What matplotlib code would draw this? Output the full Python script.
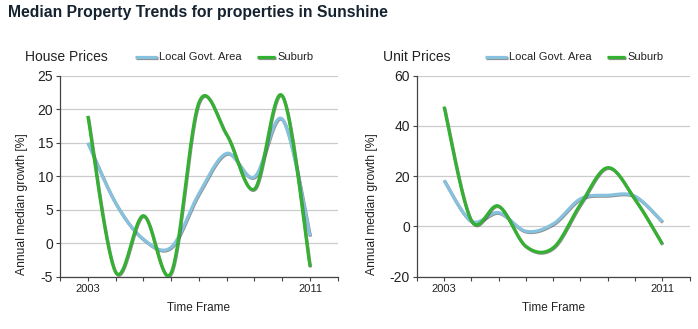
import matplotlib

matplotlib.use("Agg")
import matplotlib.pyplot as plt
import matplotlib.patheffects as pe
import numpy as np

plt.rcParams["font.family"] = ["Liberation Sans", "DejaVu Sans"]

years = [2003, 2004, 2005, 2006, 2007, 2008, 2009, 2010, 2011]

house_lga = [15.0, 6.0, 0.6, -0.6, 7.4, 13.4, 9.9, 18.5, 1.1]
house_suburb = [19.0, -4.3, 4.1, -4.4, 21.0, 16.2, 8.1, 22.0, -3.5]

unit_lga = [18.4, 2.1, 5.5, -1.9, 1.0, 11.0, 12.4, 12.0, 1.9]
unit_suburb = [47.7, 2.4, 8.1, -7.9, -8.5, 8.8, 23.4, 10.8, -7.0]

BLUE = "#86c1dd"
GREEN = "#34b132"
TEXT = "#222222"
W, H = 698, 329


def cardinal_spline(xs, ys, tension=0.5, steps=40):
    # same construction GDI+ DrawCurve uses: bezier segments with
    # control points offset by tension * (next - prev) / 3
    pts = np.column_stack([xs, ys]).astype(float)
    n = len(pts)
    out = []
    for i in range(n - 1):
        p0 = pts[i]
        p1 = pts[i + 1]
        prev = pts[i - 1] if i > 0 else pts[i]
        nxt = pts[i + 2] if i + 2 < n else pts[i + 1]
        c1 = p0 + tension * (p1 - prev) / 3.0
        c2 = p1 - tension * (nxt - p0) / 3.0
        t = np.linspace(0, 1, steps)[:, None]
        seg = ((1 - t) ** 3) * p0 + 3 * ((1 - t) ** 2) * t * c1 + 3 * (1 - t) * t ** 2 * c2 + t ** 3 * p1
        out.append(seg if i == 0 else seg[1:])
    curve = np.vstack(out)
    return curve[:, 0], curve[:, 1]


def line_shadow():
    return [pe.SimpleLineShadow(offset=(0.4, -0.6), shadow_color="#333333", alpha=0.55), pe.Normal()]


def draw_header(fig, title, title_px, legend_px):
    # panel title and a hand-placed legend row, positions in pixels
    yc = 1 - 57 / H
    fig.text(title_px / W, yc, title, fontsize=10, color=TEXT, va="center", ha="left")
    entries = (("Local Govt. Area", BLUE, 0, 22), ("Suburb", GREEN, 122, 18))
    for label, color, off, w in entries:
        x = legend_px + off
        fig.add_artist(plt.Line2D([x / W, (x + w) / W], [yc, yc], transform=fig.transFigure,
                                  color=color, lw=2.3, solid_capstyle="butt", path_effects=line_shadow()))
        fig.text((x + w + 2) / W, yc, label, fontsize=8, color=TEXT, va="center", ha="left")


def draw_panel(fig, rect, lga, suburb, ylim, yticks, ylabel_x):
    ax = fig.add_axes(rect)
    x, y = cardinal_spline(years, lga)
    ax.plot(x, y, color=BLUE, lw=2.3, solid_capstyle="butt", path_effects=line_shadow(), zorder=3)
    x, y = cardinal_spline(years, suburb)
    ax.plot(x, y, color=GREEN, lw=2.3, solid_capstyle="butt", path_effects=line_shadow(), zorder=4)

    ax.set_xlim(2002, 2012)
    ax.set_ylim(*ylim)
    ax.set_xticks(range(2002, 2013))
    ax.set_xticklabels(["2003" if v == 2003 else "2011" if v == 2011 else "" for v in range(2002, 2013)],
                       fontsize=8, color=TEXT)
    ax.set_yticks(yticks)
    ax.set_yticklabels([str(v) for v in yticks], fontsize=10, color=TEXT)
    ax.tick_params(axis="both", direction="out", length=3, width=0.8, color="#444444", pad=2)
    ax.grid(axis="y", color="#cccccc", lw=0.9)
    ax.set_axisbelow(True)
    for side in ("top", "right"):
        ax.spines[side].set_visible(False)
    for side in ("left", "bottom"):
        ax.spines[side].set_color("#444444")
        ax.spines[side].set_linewidth(0.9)
    ax.set_xlabel("Time Frame", fontsize=8.5, color=TEXT, labelpad=6)
    ax.set_ylabel("Annual median growth [%]", fontsize=8.7, color=TEXT, va="center")
    ax.yaxis.set_label_coords(ylabel_x, 0.362)
    return ax


fig = plt.figure(figsize=(W / 100, H / 100), dpi=100)
fig.text(0.012, 0.962, "Median Property Trends for properties in Sunshine", fontsize=11.3,
         fontweight="bold", color="#15222f", va="center", ha="left")

draw_panel(fig, [0.086, 0.159, 0.398, 0.611], house_lga, house_suburb, (-5, 25),
           [-5, 0, 5, 10, 15, 20, 25], -0.137)
draw_header(fig, "House Prices", 25, 135)

draw_panel(fig, [0.597, 0.159, 0.391, 0.611], unit_lga, unit_suburb, (-20, 60),
           [-20, 0, 20, 40, 60], -0.163)
draw_header(fig, "Unit Prices", 383, 485)

fig.savefig("out.png", dpi=100)
